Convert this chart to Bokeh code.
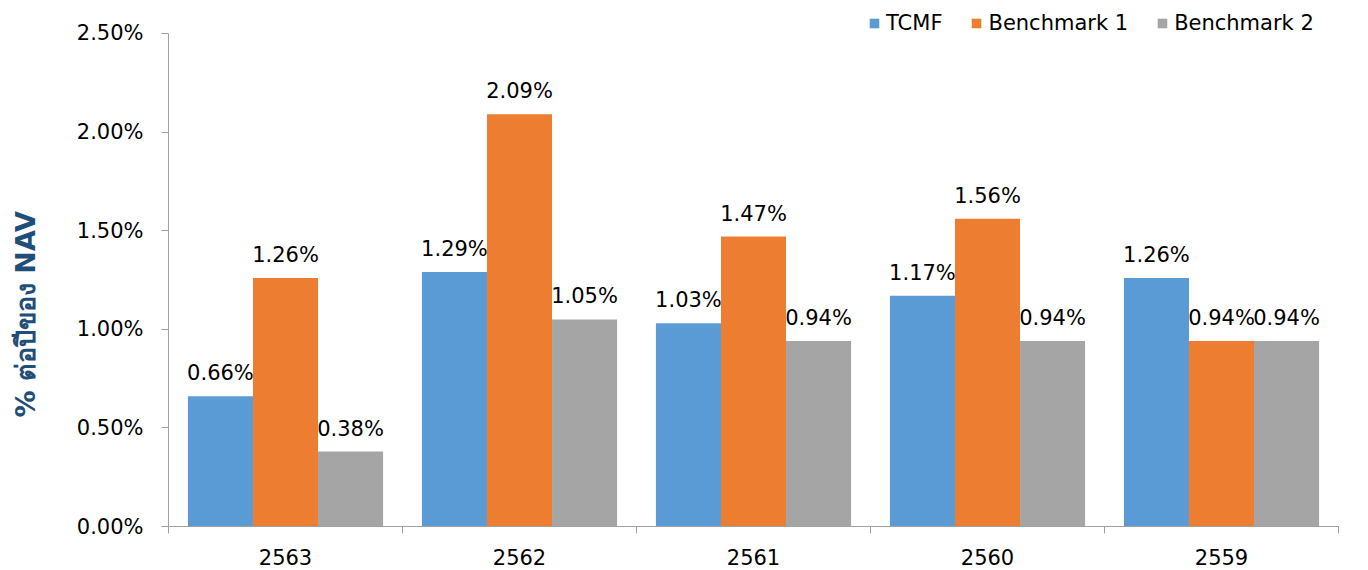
import numpy as np
from bokeh.plotting import figure
from bokeh.models import (ColumnDataSource, FixedTicker, Legend, LegendItem, Title,
                          PrintfTickFormatter, Range1d)
from bokeh.embed import file_html
from bokeh.resources import INLINE
from bokeh.core.properties import value

# ---- data ----
years = ["2563", "2562", "2561", "2560", "2559"]
series_names = ["TCMF", "Benchmark 1", "Benchmark 2"]
tcmf = [0.66, 1.29, 1.03, 1.17, 1.26]
bench1 = [1.26, 2.09, 1.47, 1.56, 0.94]
bench2 = [0.38, 1.05, 0.94, 0.94, 0.94]
y_ticks = [0.0, 0.5, 1.0, 1.5, 2.0, 2.5]
y_title = "% ต่อปีของ NAV"

colors = ["#5B9BD5", "#ED7D31", "#A5A5A5"]
FONT = "DejaVu Sans"
FS = "21px"
AXIS_COLOR = "#A0A0A0"

n = len(years)
centers = np.arange(n) + 0.5
bw = 0.278

p = figure(width=1368, height=570,
           x_range=Range1d(0, n), y_range=Range1d(0, 2.667),
           output_backend="svg", toolbar_location=None,
           min_border_left=168, min_border_right=30,
           min_border_top=0, min_border_bottom=44)
p.outline_line_color = None
p.xgrid.visible = False
p.ygrid.visible = False
p.background_fill_color = "white"

renderers = []
for i, (name, vals) in enumerate(zip(series_names, [tcmf, bench1, bench2])):
    xs = centers + (i - 1) * bw
    src = ColumnDataSource(dict(x=xs, top=vals,
                                lab=[f"{v:.2f}%" for v in vals]))
    r = p.vbar(x="x", top="top", width=bw, source=src,
               fill_color=colors[i], line_color=None)
    renderers.append(r)
    p.text(x="x", y="top", text="lab", source=src,
           text_align="center", text_baseline="alphabetic", y_offset=-23,
           text_font=value(FONT), text_font_size=FS, text_color="#000000")

# x axis: labels at centers, tick marks at group boundaries
xa = p.xaxis[0]
xa.ticker = FixedTicker(ticks=list(centers), minor_ticks=list(range(n + 1)))
xa.major_label_overrides = {float(c): y for c, y in zip(centers, years)}
xa.major_tick_line_color = None
xa.major_tick_out = 0
xa.major_tick_in = 0
xa.minor_tick_line_color = AXIS_COLOR
xa.minor_tick_out = 7
xa.minor_tick_in = 0
xa.major_label_standoff = 15
xa.axis_line_color = AXIS_COLOR
xa.major_label_text_font = FONT
xa.major_label_text_font_size = FS
xa.major_label_text_color = "#000000"

ya = p.yaxis[0]
ya.ticker = FixedTicker(ticks=y_ticks)
ya.bounds = (y_ticks[0], y_ticks[-1])
ya.formatter = PrintfTickFormatter(format="%.2f%%")
ya.major_tick_out = 7
ya.major_tick_in = 0
ya.major_tick_line_color = AXIS_COLOR
ya.minor_tick_line_color = None
ya.axis_line_color = AXIS_COLOR
ya.major_label_standoff = 18
ya.major_label_text_font = FONT
ya.major_label_text_font_size = FS
ya.major_label_text_color = "#000000"
# blank axis label only reserves room between the tick labels and the title
ya.axis_label = " "
ya.axis_label_text_font_size = "12px"
ya.axis_label_standoff = 16

p.add_layout(Title(text=y_title, align="left", offset=109,
                   text_font=FONT, text_font_size="27px", text_font_style="bold",
                   text_color="#1F4E79", standoff=0), "left")

legend = Legend(items=[LegendItem(label=nm, renderers=[r]) for nm, r in zip(series_names, renderers)],
                orientation="horizontal", location=(700, 491),
                glyph_width=12, glyph_height=12, label_standoff=6, spacing=28,
                padding=0, margin=0, border_line_color=None, background_fill_alpha=0,
                label_text_font=FONT, label_text_font_size=FS, label_text_color="#000000")
p.add_layout(legend)

open("out.html", "w").write(file_html(p, INLINE))
